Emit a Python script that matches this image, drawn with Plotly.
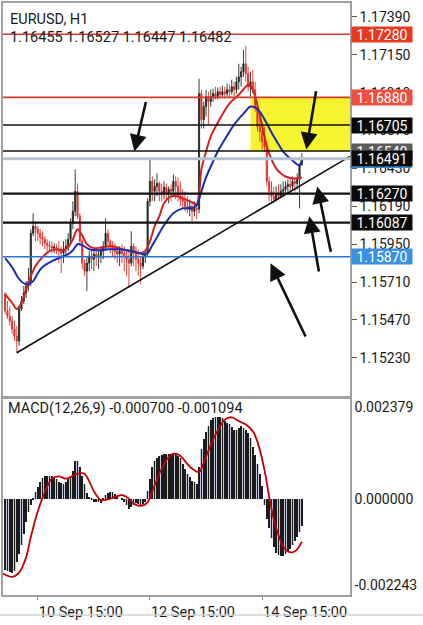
import plotly.graph_objects as go
from plotly.subplots import make_subplots

# ---------------- data ----------------
first_open = 1.15634
close = [
    1.15527, 1.15495, 1.15464, 1.15413, 1.15369, 1.15337, 1.15540, 1.15590, 1.15641, 1.15685,
    1.15716, 1.16019, 1.16064, 1.16045, 1.16019, 1.15994, 1.15981, 1.15956, 1.15944, 1.15937,
    1.15925, 1.15931, 1.15918, 1.15906, 1.15893, 1.15918, 1.15937, 1.15981, 1.16083, 1.16158,
    1.16285, 1.16127, 1.15969, 1.15830, 1.15779, 1.15830, 1.15874, 1.15855, 1.15887, 1.15868,
    1.15880, 1.15906, 1.15937, 1.16019, 1.15969, 1.15937, 1.15918, 1.15906, 1.15887, 1.15906,
    1.15893, 1.15874, 1.15855, 1.15830, 1.15937, 1.15893, 1.15855, 1.15830, 1.15811, 1.15874,
    1.15893, 1.16222, 1.16348, 1.16285, 1.16316, 1.16335, 1.16285, 1.16272, 1.16310, 1.16272,
    1.16297, 1.16285, 1.16348, 1.16316, 1.16253, 1.16234, 1.16222, 1.16190, 1.16171, 1.16190,
    1.16158, 1.16177, 1.16171, 1.16904, 1.16739, 1.16822, 1.16885, 1.16853, 1.16885, 1.16904,
    1.16885, 1.16916, 1.16897, 1.16916, 1.16904, 1.16929, 1.16916, 1.16948, 1.16929, 1.16979,
    1.17011, 1.17043, 1.17093, 1.17030, 1.16948, 1.16979, 1.16929, 1.16822, 1.16695, 1.16664,
    1.16600, 1.16569, 1.16348, 1.16285, 1.16253, 1.16234, 1.16272, 1.16253, 1.16285, 1.16297,
    1.16316, 1.16329, 1.16316, 1.16348, 1.16335, 1.16360, 1.16455, 1.16482]
high = [
    1.15647, 1.15590, 1.15558, 1.15495, 1.15464, 1.15432, 1.15558, 1.15622, 1.15685, 1.15716,
    1.15798, 1.16045, 1.16146, 1.16095, 1.16064, 1.16045, 1.16032, 1.16000, 1.15981, 1.15969,
    1.15969, 1.15956, 1.15950, 1.15969, 1.15937, 1.15969, 1.15981, 1.16019, 1.16114, 1.16222,
    1.16424, 1.16335, 1.16146, 1.15981, 1.15855, 1.15874, 1.15906, 1.15918, 1.15906, 1.15918,
    1.15906, 1.15937, 1.15969, 1.16114, 1.16045, 1.15981, 1.15969, 1.15956, 1.15937, 1.15937,
    1.15950, 1.15937, 1.15918, 1.15906, 1.16032, 1.15956, 1.15937, 1.15918, 1.15874, 1.15906,
    1.15918, 1.16241, 1.16487, 1.16379, 1.16360, 1.16398, 1.16348, 1.16335, 1.16348, 1.16335,
    1.16316, 1.16329, 1.16392, 1.16379, 1.16373, 1.16348, 1.16297, 1.16285, 1.16253, 1.16234,
    1.16222, 1.16222, 1.16203, 1.16998, 1.16929, 1.16853, 1.16929, 1.16916, 1.16929, 1.16935,
    1.16948, 1.16942, 1.16948, 1.16954, 1.16948, 1.16967, 1.16960, 1.16992, 1.16979, 1.17011,
    1.17093, 1.17074, 1.17182, 1.17207, 1.17074, 1.17043, 1.17055, 1.16979, 1.16853, 1.16758,
    1.16727, 1.16695, 1.16600, 1.16379, 1.16348, 1.16316, 1.16316, 1.16329, 1.16329, 1.16348,
    1.16348, 1.16360, 1.16367, 1.16379, 1.16373, 1.16398, 1.16460, 1.16527]
low = [
    1.15508, 1.15476, 1.15432, 1.15382, 1.15337, 1.15262, 1.15306, 1.15527, 1.15571, 1.15609,
    1.15653, 1.15685, 1.16000, 1.15969, 1.15969, 1.15950, 1.15937, 1.15918, 1.15906, 1.15906,
    1.15893, 1.15893, 1.15887, 1.15830, 1.15767, 1.15830, 1.15874, 1.15906, 1.15956, 1.16045,
    1.16127, 1.16108, 1.15937, 1.15792, 1.15748, 1.15653, 1.15779, 1.15792, 1.15779, 1.15811,
    1.15792, 1.15830, 1.15855, 1.15906, 1.15937, 1.15893, 1.15874, 1.15855, 1.15830, 1.15811,
    1.15830, 1.15779, 1.15748, 1.15672, 1.15811, 1.15811, 1.15779, 1.15748, 1.15697, 1.15792,
    1.15830, 1.15874, 1.16190, 1.16222, 1.16222, 1.16253, 1.16222, 1.16222, 1.16234, 1.16222,
    1.16209, 1.16222, 1.16253, 1.16234, 1.16222, 1.16190, 1.16171, 1.16158, 1.16146, 1.16127,
    1.16095, 1.16127, 1.16108, 1.16146, 1.16683, 1.16683, 1.16758, 1.16708, 1.16822, 1.16853,
    1.16866, 1.16866, 1.16872, 1.16878, 1.16872, 1.16885, 1.16878, 1.16897, 1.16885, 1.16904,
    1.16929, 1.16948, 1.17011, 1.16979, 1.16916, 1.16885, 1.16904, 1.16790, 1.16664, 1.16600,
    1.16550, 1.16537, 1.16316, 1.16222, 1.16203, 1.16209, 1.16222, 1.16234, 1.16241, 1.16253,
    1.16266, 1.16272, 1.16285, 1.16297, 1.16285, 1.16297, 1.16177, 1.16447]
bars = list(range(len(close)))
opens = [first_open] + close[:-1]

fast_ma_bars = [0, 3, 5, 7, 9, 11, 13, 16, 19, 22, 25, 27, 29, 31, 33, 35, 38, 42, 46, 50,
                54, 58, 60, 62, 64, 66, 68, 71, 74, 77, 80, 82, 83, 84, 86, 88, 92, 96, 100,
                103, 104, 106, 108, 110, 112, 114, 116, 118, 120, 123, 127]
fast_ma = [1.15634, 1.15578, 1.15540, 1.15578, 1.15666, 1.15748, 1.15811, 1.15868, 1.15906,
           1.15918, 1.15912, 1.15931, 1.15981, 1.16045, 1.16006, 1.15950, 1.15925, 1.15931,
           1.15937, 1.15918, 1.15906, 1.15893, 1.15906, 1.15969, 1.16064, 1.16127, 1.16209,
           1.16253, 1.16253, 1.16234, 1.16215, 1.16203, 1.16266, 1.16424, 1.16537, 1.16632,
           1.16746, 1.16840, 1.16897, 1.16948, 1.16960, 1.16929, 1.16828, 1.16702, 1.16569,
           1.16487, 1.16430, 1.16398, 1.16379, 1.16367, 1.16373]
slow_ma_bars = [0, 3, 6, 9, 12, 14, 16, 20, 24, 27, 29, 31, 33, 36, 40, 44, 48, 52, 56, 59,
                61, 63, 65, 68, 72, 76, 80, 82, 84, 86, 89, 91, 94, 98, 102, 105, 107, 109,
                112, 115, 119, 123, 126, 127]
slow_ma = [1.15862, 1.15805, 1.15729, 1.15697, 1.15716, 1.15767, 1.15805, 1.15843, 1.15868,
           1.15887, 1.15912, 1.15950, 1.15944, 1.15918, 1.15912, 1.15918, 1.15918, 1.15912,
           1.15899, 1.15887, 1.15893, 1.15944, 1.15994, 1.16070, 1.16146, 1.16177, 1.16177,
           1.16197, 1.16285, 1.16373, 1.16474, 1.16537, 1.16613, 1.16708, 1.16777, 1.16822,
           1.16815, 1.16790, 1.16714, 1.16632, 1.16537, 1.16480, 1.16449, 1.16493]

# MACD histogram and signal, in units of 1e-4
macd_hist_e4 = [
    -18.6, -18.9, -19.0, -19.2, -18.9, -16.5, -14.3, -12.1, -9.1, -6.1,
    -3.5, -1.7, -0.4, 1.7, 3.0, 4.3, 5.4, 5.9, 6.1, 6.1,
    5.9, 5.6, 5.2, 4.5, 4.2, 3.9, 4.3, 5.2, 6.1, 7.4,
    10.0, 10.0, 8.2, 6.1, 3.9, 1.6, 0.4, -0.4, -0.7, -0.7,
    -0.9, -1.0, -0.2, 0.9, 1.6, 1.7, 1.7, 1.3, 0.4, 0.0,
    -0.4, -0.9, -1.6, -2.6, -2.2, -1.6, -1.0, -1.3, -1.7, -1.3,
    -0.7, 2.2, 5.2, 8.2, 10.0, 10.8, 11.3, 11.5, 11.7, 11.7,
    11.6, 11.7, 12.0, 11.7, 11.3, 10.8, 9.1, 7.9, 6.4, 5.6,
    4.8, 4.3, 4.0, 8.2, 13.1, 15.5, 17.5, 19.0, 20.5, 21.2,
    21.4, 21.4, 21.4, 21.0, 20.3, 19.9, 19.5, 18.8, 17.9, 17.9,
    18.6, 19.0, 18.6, 18.0, 17.3, 15.8, 13.5, 11.5, 9.0, 6.5,
    3.5, -1.5, -5.1, -7.7, -10.3, -12.4, -14.0, -14.6, -15.0, -14.8,
    -14.3, -13.9, -13.0, -11.9, -11.0, -10.0, -8.5, -7.0]
signal_bars = [-1, 3, 6, 9, 11, 14, 17, 20, 23, 26, 28, 31, 34, 36, 38, 41, 44, 47, 50, 53,
               55, 58, 61, 64, 67, 70, 72, 75, 78, 81, 83, 85, 88, 91, 94, 97, 100, 103, 106,
               108, 111, 113, 115, 117, 119, 121, 123, 125, 127]
signal_e4 = [-19.5, -20.4, -19.3, -15.3, -10.0, -3.3, 1.7, 5.2, 5.8, 5.2, 5.6, 6.5, 6.5, 4.5,
             1.9, -0.4, -0.2, 0.4, 0.9, 0.0, -1.3, -1.9, -0.9, 3.5, 7.8, 10.8, 11.7, 11.2,
             9.0, 7.4, 6.9, 9.3, 14.0, 17.8, 20.6, 21.2, 20.2, 19.3, 17.6, 14.8, 7.5, 0.5,
             -5.5, -9.5, -12.5, -13.8, -14.0, -13.2, -11.2]

price_ticks = [1.17390, 1.17150, 1.16910, 1.16670, 1.16430, 1.16190, 1.15950, 1.15710, 1.15470, 1.15230]
macd_ticks = [0.002379, 0.0, -0.002243]
macd_tick_text = ["0.002379", "0.000000", "-0.002243"]
date_tick_bars = [14, 62, 110]
date_tick_text = ["10 Sep 15:00", "12 Sep 15:00", "14 Sep 15:00"]

level_prices = [1.17280, 1.16880, 1.16705, 1.16540, 1.16491, 1.16270, 1.16087, 1.15870]
level_line_colors = ["#d23a2c", "#d23a2c", "#111111", "#111111", "#b3c2d2", "#111111", "#111111", "#2f6fd2"]
level_line_widths = [1.6, 1.6, 1.6, 1.6, 3.0, 2.2, 2.2, 1.6]
level_box_colors = ["#e6391f", "#ee4f3e", "#0a0a0a", "#5c5c5c", "#0a0a0a", "#0a0a0a", "#0a0a0a", "#3a90e2"]

zone_start_bar = 105
zone_top = 1.16880
zone_bottom = 1.16540

trend_bars = [5, 147.6]
trend_prices = [1.15262, 1.16506]

# arrows: (tip bar, tip price, tail bar, tail price)
arrows = [
    (55.3, 1.16537, 60.4, 1.16860),
    (128.9, 1.16550, 133.2, 1.16929),
    (133.6, 1.16316, 139.5, 1.15893),
    (130.2, 1.16127, 134.4, 1.15767),
    (113.6, 1.15830, 128.9, 1.15356),
]

ohlc_text = "1.16455 1.16527 1.16447 1.16482"
macd_text = "MACD(12,26,9) -0.000700 -0.001094"

x_range = [-0.9, 147.6]
price_range = [1.14984, 1.17478]
macd_range = [-0.002512, 0.002631]

FONT = "Roboto"

# ---------------- figure ----------------
fig = make_subplots(rows=2, cols=1, shared_xaxes=True, vertical_spacing=0)

fig.add_trace(go.Candlestick(
    x=bars, open=opens, high=high, low=low, close=close,
    increasing=dict(line=dict(color="#1f2a1f", width=0.9), fillcolor="#1f2a1f"),
    decreasing=dict(line=dict(color="#e0302a", width=0.9), fillcolor="#e0302a"),
    whiskerwidth=0, hoverinfo="skip"), row=1, col=1)

fig.add_trace(go.Scatter(x=fast_ma_bars, y=fast_ma, mode="lines",
                         line=dict(color="#d42020", width=2, shape="spline", smoothing=0.8),
                         hoverinfo="skip"), row=1, col=1)
fig.add_trace(go.Scatter(x=slow_ma_bars, y=slow_ma, mode="lines",
                         line=dict(color="#1a2db4", width=2, shape="spline", smoothing=0.8),
                         hoverinfo="skip"), row=1, col=1)
fig.add_trace(go.Scatter(x=trend_bars, y=trend_prices, mode="lines",
                         line=dict(color="#111111", width=1.6), hoverinfo="skip"), row=1, col=1)

macd_vals = [v * 1e-4 for v in macd_hist_e4]
signal_vals = [v * 1e-4 for v in signal_e4]
fig.add_trace(go.Bar(x=bars, y=macd_vals, width=1.0, marker=dict(color="#c6cadf", line=dict(width=0)),
                     hoverinfo="skip"), row=2, col=1)
fig.add_trace(go.Bar(x=bars, y=macd_vals, width=0.3, marker=dict(color="#1c1c1c", line=dict(width=0)),
                     hoverinfo="skip"), row=2, col=1)
fig.add_trace(go.Scatter(x=signal_bars, y=signal_vals, mode="lines",
                         line=dict(color="#c40000", width=1.8, shape="spline", smoothing=0.8),
                         hoverinfo="skip"), row=2, col=1)

# shapes
shapes = [dict(type="rect", xref="x", yref="y", x0=zone_start_bar, x1=x_range[1],
               y0=zone_bottom, y1=zone_top, fillcolor="#f6f42e", line=dict(width=0), layer="below")]
for p, c, w in zip(level_prices, level_line_colors, level_line_widths):
    shapes.append(dict(type="line", xref="paper", yref="y", x0=0, x1=1, y0=p, y1=p,
                       line=dict(color=c, width=w)))
# blue underline below the bid label
shapes.append(dict(type="line", xref="paper", yref="y", ysizemode="pixel", yanchor=level_prices[4],
                   x0=1.0, x1=1.178, y0=-8.5, y1=-8.5, line=dict(color="#2a8cf0", width=1.5)))
# grey separator at the bottom of the screen
shapes.append(dict(type="line", xref="paper", yref="paper", x0=-0.01, x1=1.22, y0=-0.0337, y1=-0.0337,
                   line=dict(color="#d2d2d2", width=1.5)))

annotations = []
for p, bc in zip(level_prices, level_box_colors):
    annotations.append(dict(xref="paper", yref="y", x=1, y=p, xanchor="left", yanchor="middle",
                            xshift=1, text=f"{p:.5f}", showarrow=False, bgcolor=bc,
                            width=60, height=15, borderpad=0, align="center",
                            font=dict(family=FONT, size=14, color="white")))
for tb, tp, ab, ap in arrows:
    annotations.append(dict(xref="x", yref="y", axref="x", ayref="y", x=tb, y=tp, ax=ab, ay=ap,
                            text="", showarrow=True, arrowhead=2, arrowsize=1.3, arrowwidth=2.6,
                            arrowcolor="#111111", standoff=0, startstandoff=0))
annotations.append(dict(xref="x domain", yref="y domain", x=0, y=1, xanchor="left", yanchor="middle",
                        xshift=5, yshift=-16, text="EURUSD, H1", showarrow=False,
                        font=dict(family=FONT, size=14.5, color="#1a1a1a")))
annotations.append(dict(xref="x domain", yref="y domain", x=0, y=1, xanchor="left", yanchor="middle",
                        xshift=5, yshift=-34, text=ohlc_text, showarrow=False,
                        font=dict(family=FONT, size=14.5, color="#1a1a1a")))
annotations.append(dict(xref="x2 domain", yref="y2 domain", x=0, y=1, xanchor="left", yanchor="middle",
                        xshift=3, yshift=-11, text=macd_text, showarrow=False,
                        font=dict(family=FONT, size=14.5, color="#1a1a1a")))

axis_line = dict(showline=True, mirror=True, linecolor="#a0a0a0", linewidth=1.5,
                 showgrid=False, zeroline=False)

fig.update_layout(
    width=423, height=625,
    margin=dict(l=1, r=73, t=1, b=30),
    paper_bgcolor="white", plot_bgcolor="white",
    showlegend=False, barmode="overlay", bargap=0,
    shapes=shapes, annotations=annotations,
    dragmode=False, hovermode=False,
    xaxis=dict(domain=[0, 1], range=x_range, rangeslider=dict(visible=False),
               showticklabels=False, ticks="", **axis_line),
    xaxis2=dict(domain=[0, 1], range=x_range, tickvals=date_tick_bars, ticktext=date_tick_text,
                ticks="outside", ticklen=3, tickcolor="#888888", ticklabelshift=43,
                tickfont=dict(family=FONT, size=14.5, color="#1a1a1a"), **axis_line),
    yaxis=dict(domain=[0.335, 1], range=price_range, side="right", tickvals=price_ticks,
               ticktext=[f"{v:.5f}" for v in price_ticks], ticks="outside", ticklen=5,
               tickcolor="#555555", tickfont=dict(family=FONT, size=14, color="#1a1a1a"), **axis_line),
    yaxis2=dict(domain=[0, 0.3333], range=macd_range, side="right", tickvals=macd_ticks,
                ticktext=macd_tick_text, ticks="",
                tickfont=dict(family=FONT, size=14, color="#1a1a1a"), **axis_line),
)

fig.write_html("out.html", config={"displayModeBar": False})
